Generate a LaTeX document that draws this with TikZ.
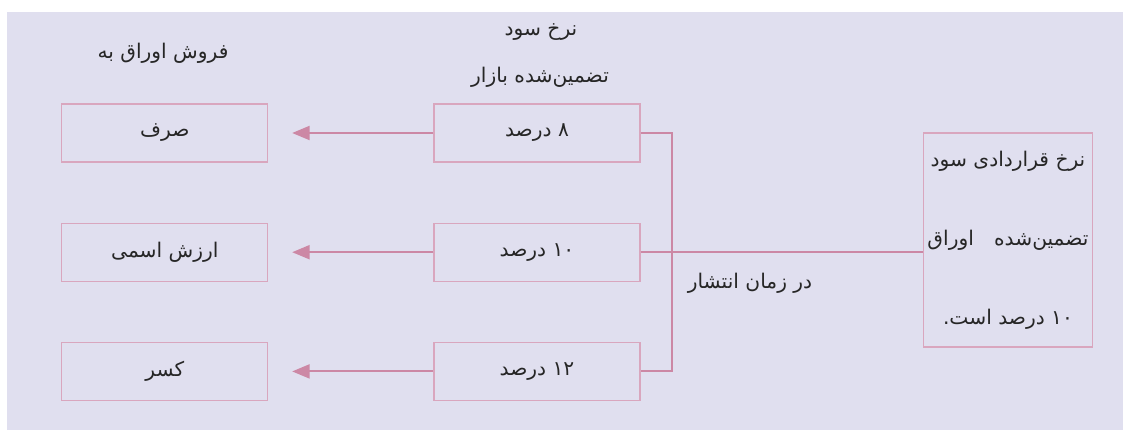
\documentclass[tikz,border=0pt]{standalone}
\usepackage{fontspec}
\newfontfamily\arabicfont[Script=Arabic]{DejaVu Sans}
\TeXXeTstate=1
\usetikzlibrary{arrows.meta}
\usetikzlibrary{positioning}
\definecolor{panel}{HTML}{E0DFEF}
\definecolor{boxline}{HTML}{D9A6BE}
\definecolor{linkline}{HTML}{CC88A5}

\begin{document}
\begin{tikzpicture}[x=0.02cm, y=-0.02cm,
    node distance=1.2cm and 3.3cm,
    every node/.style={font=\arabicfont\fontsize{11.5}{14}\selectfont, text=black!85},
    box/.style={draw=boxline, line width=0.7pt, minimum width=4.12cm, minimum height=1.16cm, inner sep=0pt},
    link/.style={draw=linkline, line width=1.2pt},
    arr/.style={link, -{Triangle[length=10pt, width=8pt]}, shorten >=13.5pt}]

  \useasboundingbox (0,0) rectangle (1123,430);
  \fill [panel] (7,12) rectangle (1123,430);

  % market rates
  \node [box] (m1) at (537,133) {\beginR ۸ درصد\endR};
  \node [box, below=of m1] (m2) {\beginR ۱۰ درصد\endR};
  \node [box, below=of m2] (m3) {\beginR ۱۲ درصد\endR};

  % sale of bonds
  \node [box, left=of m1] (l1) {\beginR صرف\endR};
  \node [box, left=of m2] (l2) {\beginR ارزش اسمی\endR};
  \node [box, left=of m3] (l3) {\beginR کسر\endR};

  % contract rate
  \node [box, minimum width=3.38cm, minimum height=4.28cm, align=center] (rate) at (1008,240)
    {\beginR نرخ قراردادی سود\endR\\[31pt]
     \beginR تضمین‌شده\quad اوراق\endR\\[31pt]
     \beginR ۱۰ درصد است.\endR};

  \node (head_l) at (163,53) {\beginR فروش اوراق به\endR};
  \node (head_m1) at (541,32) {\beginR نرخ سود\endR};
  \node (head_m2) at (540,77) {\beginR تضمین‌شده بازار\endR};
  \node (issue) at (750,283) {\beginR در زمان انتشار\endR};

  \coordinate (bus) at (672,251);

  \draw [arr] (m1) -- (l1);
  \draw [arr] (m2) -- (l2);
  \draw [arr] (m3) -- (l3);

  \draw [link] (m1.east) -| (bus) |- (m3.east);
  \draw [link] (m2.east) -- (m2.east -| rate.west);

\end{tikzpicture}
\end{document}
